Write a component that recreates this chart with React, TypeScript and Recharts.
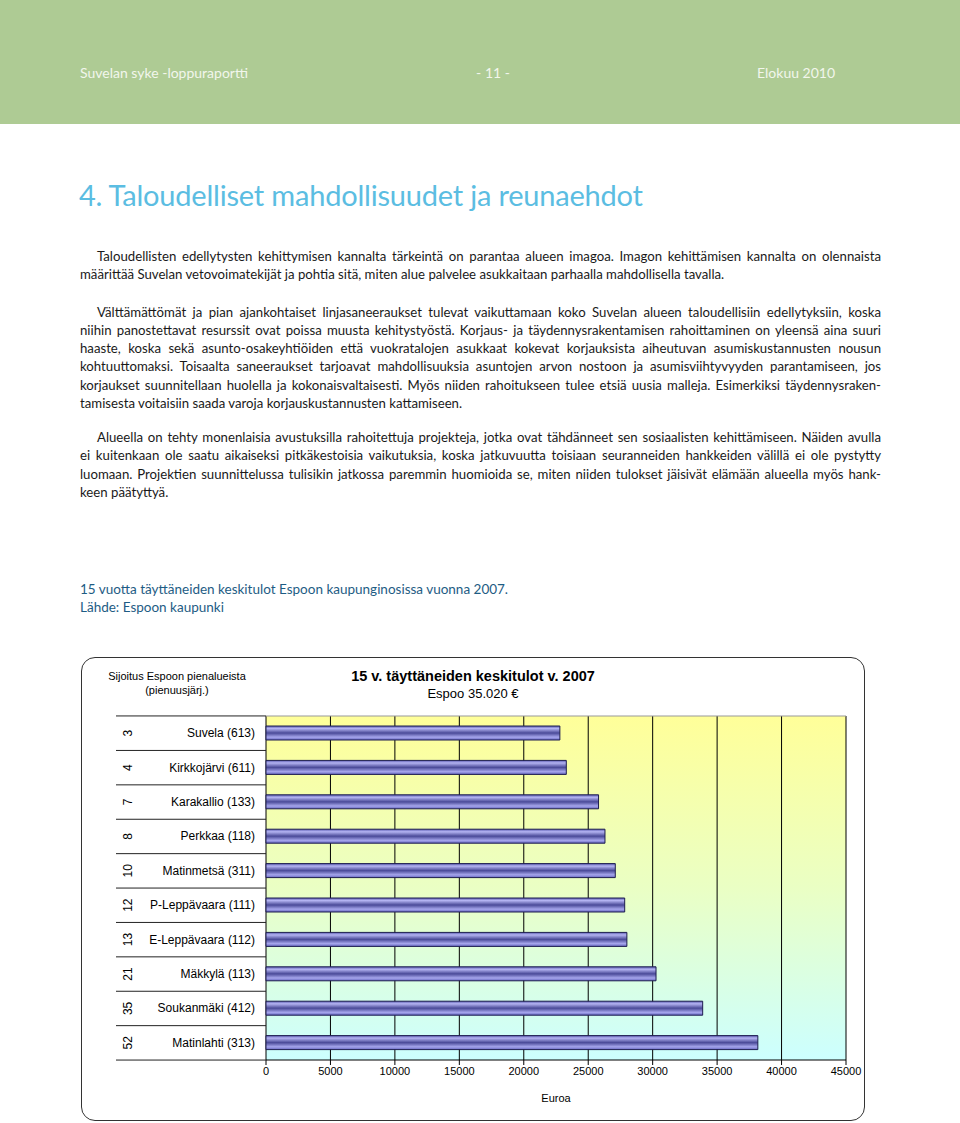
import React from 'react';
import { BarChart, Bar, XAxis, YAxis, CartesianGrid } from 'recharts';

const ranks = [3, 4, 7, 8, 10, 12, 13, 21, 35, 52];
const areas = [
  'Suvela (613)',
  'Kirkkojärvi (611)',
  'Karakallio (133)',
  'Perkkaa (118)',
  'Matinmetsä (311)',
  'P-Leppävaara (111)',
  'E-Leppävaara (112)',
  'Mäkkylä (113)',
  'Soukanmäki (412)',
  'Matinlahti (313)',
];
const incomes = [22800, 23300, 25800, 26300, 27100, 27830, 28000, 30260, 33880, 38160];
const xTicks = [0, 5000, 10000, 15000, 20000, 25000, 30000, 35000, 40000, 45000];

const data = areas.map((name, i) => ({ name, rank: ranks[i], income: incomes[i] }));

const p1 = [
  'Taloudellisten edellytysten kehittymisen kannalta tärkeintä on parantaa alueen imagoa. Imagon kehittämisen kannalta on olennaista',
  'määrittää Suvelan vetovoimatekijät ja pohtia sitä, miten alue palvelee asukkaitaan parhaalla mahdollisella tavalla.',
];
const p2 = [
  'Välttämättömät ja pian ajankohtaiset linjasaneeraukset tulevat vaikuttamaan koko Suvelan alueen taloudellisiin edellytyksiin, koska',
  'niihin panostettavat resurssit ovat poissa muusta kehitystyöstä. Korjaus- ja täydennysrakentamisen rahoittaminen on yleensä aina suuri',
  'haaste, koska sekä asunto-osakeyhtiöiden että vuokratalojen asukkaat kokevat korjauksista aiheutuvan asumiskustannusten nousun',
  'kohtuuttomaksi. Toisaalta saneeraukset tarjoavat mahdollisuuksia asuntojen arvon nostoon ja asumisviihtyvyyden parantamiseen, jos',
  'korjaukset suunnitellaan huolella ja kokonaisvaltaisesti. Myös niiden rahoitukseen tulee etsiä uusia malleja. Esimerkiksi täydennysraken-',
  'tamisesta voitaisiin saada varoja korjauskustannusten kattamiseen.',
];
const p3 = [
  'Alueella on tehty monenlaisia avustuksilla rahoitettuja projekteja, jotka ovat tähdänneet sen sosiaalisten kehittämiseen. Näiden avulla',
  'ei kuitenkaan ole saatu aikaiseksi pitkäkestoisia vaikutuksia, koska jatkuvuutta toisiaan seuranneiden hankkeiden välillä ei ole pystytty',
  'luomaan. Projektien suunnittelussa tulisikin jatkossa paremmin huomioida se, miten niiden tulokset jäisivät elämään alueella myös hank-',
  'keen päätyttyä.',
];

const TEXT_FONT = 'Lato, "Open Sans", sans-serif';
const CHART_FONT = '"Liberation Sans", Arial, sans-serif';
const LINE_H = 18.3;

function Paragraph({ lines, top }: { lines: string[]; top: number }) {
  return (
    <div style={{ position: 'absolute', left: 80, top, width: 801, fontFamily: TEXT_FONT, fontSize: 13.2, color: '#1a1a1a' }}>
      {lines.map((line, i) => {
        const last = i === lines.length - 1;
        return (
          <div
            key={i}
            style={{
              height: LINE_H,
              lineHeight: `${LINE_H}px`,
              whiteSpace: 'nowrap',
              paddingLeft: i === 0 ? 17 : 0,
              textAlign: last ? 'left' : 'justify',
              textAlignLast: last ? 'left' : 'justify',
            }}
          >
            {line}
          </div>
        );
      })}
    </div>
  );
}

const BAND = 34.5;

function AreaTick(props: any) {
  const { y, payload, index } = props;
  const rank = ranks[index];
  return (
    <g>
      {index === 0 && <line x1={34} x2={184} y1={y - BAND / 2} y2={y - BAND / 2} stroke="#222" />}
      <line x1={34} x2={184} y1={y + BAND / 2} y2={y + BAND / 2} stroke="#222" />
      <text
        x={0}
        y={0}
        transform={`translate(50, ${y}) rotate(-90)`}
        textAnchor="middle"
        fontSize={12}
        fontFamily={CHART_FONT}
        fill="#000"
      >
        {rank}
      </text>
      <text x={173} y={y + 4} textAnchor="end" fontSize={12} fontFamily={CHART_FONT} fill="#000">
        {payload.value}
      </text>
    </g>
  );
}

function IncomeChart() {
  return (
    <div
      style={{
        position: 'absolute',
        left: 81,
        top: 657,
        width: 782,
        height: 462,
        border: '1px solid #333',
        borderRadius: 14,
        background: '#fff',
        fontFamily: CHART_FONT,
      }}
    >
      <div style={{ position: 'absolute', left: 0, top: 11, width: 190, textAlign: 'center', fontSize: 11, lineHeight: '14px', color: '#000' }}>
        Sijoitus Espoon pienalueista
        <br />
        (pienuusjärj.)
      </div>
      <div style={{ position: 'absolute', left: 230, top: 10, width: 322, textAlign: 'center', fontSize: 14.5, fontWeight: 'bold', color: '#000' }}>
        15 v. täyttäneiden keskitulot v. 2007
      </div>
      <div style={{ position: 'absolute', left: 230, top: 28, width: 322, textAlign: 'center', fontSize: 13, color: '#000' }}>
        Espoo 35.020 €
      </div>
      <BarChart
        width={782}
        height={462}
        data={data}
        layout="vertical"
        margin={{ top: 58, right: 18, bottom: 0, left: 0 }}
        barCategoryGap={10}
      >
        <defs>
          <linearGradient id="plotBg" x1="0" y1="0" x2="0" y2="1">
            <stop offset="0%" stopColor="#ffff99" />
            <stop offset="50%" stopColor="#eaffc4" />
            <stop offset="100%" stopColor="#ccffff" />
          </linearGradient>
          <linearGradient id="barFill" x1="0" y1="0" x2="0" y2="1">
            <stop offset="0%" stopColor="#5a5ab0" />
            <stop offset="18%" stopColor="#b4b4f2" />
            <stop offset="50%" stopColor="#4a4a98" />
            <stop offset="80%" stopColor="#a6a6ec" />
            <stop offset="100%" stopColor="#6666c0" />
          </linearGradient>
        </defs>
        <CartesianGrid fill="url(#plotBg)" horizontal={false} stroke="#000" strokeOpacity={1} />
        <CartesianGrid
          vertical={false}
          horizontalCoordinatesGenerator={({ offset }: any) => [offset.top]}
          stroke="#999"
        />
        <XAxis
          type="number"
          domain={[0, 45000]}
          ticks={xTicks}
          tickSize={5}
          axisLine={{ stroke: '#000' }}
          tickLine={{ stroke: '#000' }}
          tick={{ fontSize: 11, fill: '#000', fontFamily: CHART_FONT }}
          height={60}
          label={{ value: 'Euroa', position: 'insideBottom', offset: 18, fontSize: 11, fill: '#000', fontFamily: CHART_FONT }}
        />
        <YAxis
          type="category"
          dataKey="name"
          width={184}
          axisLine={false}
          tickLine={false}
          tick={<AreaTick />}
          interval={0}
        />
        <Bar dataKey="income" fill="url(#barFill)" stroke="#1e1e50" strokeWidth={1} barSize={14} isAnimationActive={false} />
      </BarChart>
    </div>
  );
}

export default function App() {
  return (
    <div style={{ position: 'absolute', left: 0, top: 0, width: 960, height: 1123, background: '#fff', overflow: 'hidden' }}>
      <div style={{ position: 'absolute', left: 0, top: 0, width: 960, height: 124, background: '#aecb94' }} />
      <div style={{ position: 'absolute', left: 80, top: 64, fontFamily: TEXT_FONT, fontSize: 14, color: '#f2f6ec' }}>
        Suvelan syke -loppuraportti
      </div>
      <div style={{ position: 'absolute', left: 447, top: 64, width: 92, textAlign: 'center', fontFamily: TEXT_FONT, fontSize: 14, color: '#f2f6ec' }}>
        - 11 -
      </div>
      <div style={{ position: 'absolute', left: 757, top: 64, fontFamily: TEXT_FONT, fontSize: 14, color: '#f2f6ec' }}>
        Elokuu 2010
      </div>
      <div style={{ position: 'absolute', left: 79, top: 177, fontFamily: TEXT_FONT, fontSize: 29, color: '#5bbde2', letterSpacing: -0.2 }}>
        4. Taloudelliset mahdollisuudet ja reunaehdot
      </div>
      <Paragraph lines={p1} top={247} />
      <Paragraph lines={p2} top={302.5} />
      <Paragraph lines={p3} top={428} />
      <div style={{ position: 'absolute', left: 80, top: 580, fontFamily: TEXT_FONT, fontSize: 13.5, lineHeight: '18.3px', color: '#1e5c84' }}>
        15 vuotta täyttäneiden keskitulot Espoon kaupunginosissa vuonna 2007.
        <br />
        Lähde: Espoon kaupunki
      </div>
      <IncomeChart />
    </div>
  );
}
